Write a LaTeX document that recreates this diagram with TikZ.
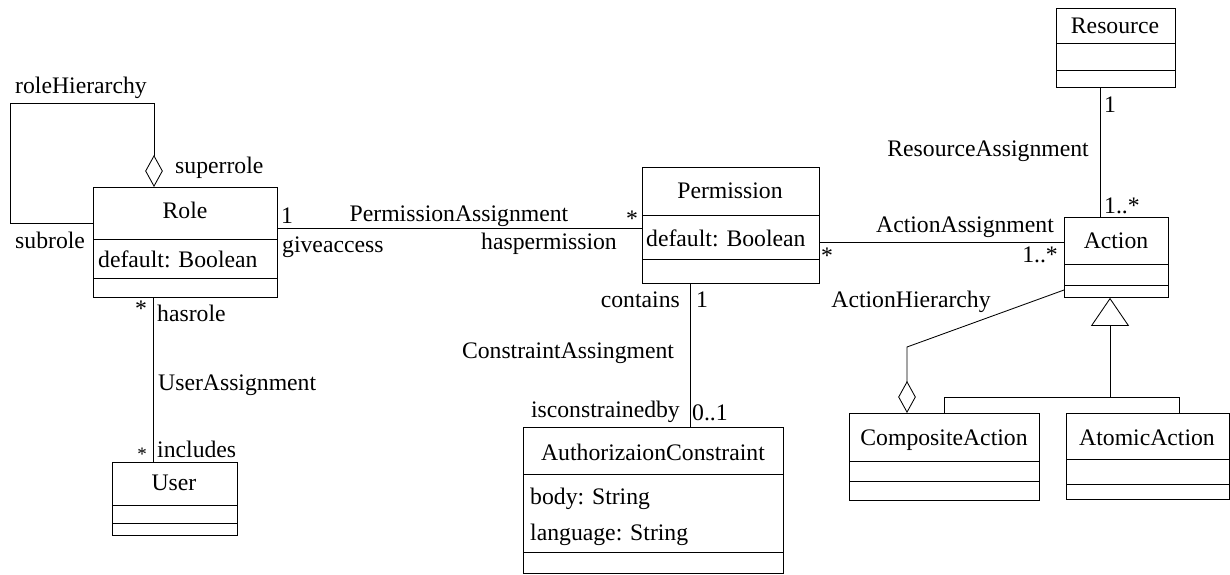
\documentclass[tikz,border=0pt]{standalone}
\usepackage{fontspec}
\setmainfont{Liberation Serif}
\usetikzlibrary{arrows.meta}
\begin{document}
\begin{tikzpicture}[x=1pt,y=-1pt,
  font=\fontsize{23.7}{28}\selectfont\rmfamily,
  classbox/.style={draw, line width=0.85pt, inner sep=0, anchor=north west},
  lbl/.style={inner sep=0, anchor=base},
  lblw/.style={inner sep=0, anchor=base west},
  lble/.style={inner sep=0, anchor=base east},
  star/.style={inner sep=0, anchor=center},
  conn/.style={line width=0.85pt},
  aggr/.style={conn, -{Diamond[open, length=32pt, width=17.6pt, line width=0.85pt]}},
  gen/.style={conn, -{Triangle[open, length=28pt, width=38pt, line width=0.85pt]}},
]
\useasboundingbox (0,0) rectangle (1230,574);

% ---- classes ----
\node[classbox, minimum width=184pt, minimum height=110pt] (role) at (93,187) {};
\draw[conn] (role.west |- 0,239) -- (role.east |- 0,239);
\draw[conn] (role.west |- 0,278) -- (role.east |- 0,278);
\node[lbl] (roleT) at (185,218) {Role};
\node[lblw] (roleA) at (98,267) {default: Boolean};

\node[classbox, minimum width=177pt, minimum height=116pt] (perm) at (642,167) {};
\draw[conn] (perm.west |- 0,215) -- (perm.east |- 0,215);
\draw[conn] (perm.west |- 0,259) -- (perm.east |- 0,259);
\node[lbl] (permT) at (730,198) {Permission};
\node[lblw] (permA) at (646,246) {default: Boolean};

\node[classbox, minimum width=119pt, minimum height=79pt] (resource) at (1056,8) {};
\draw[conn] (resource.west |- 0,43) -- (resource.east |- 0,43);
\draw[conn] (resource.west |- 0,70) -- (resource.east |- 0,70);
\node[lbl] (resourceT) at (1115,33) {Resource};

\node[classbox, minimum width=104pt, minimum height=80pt] (action) at (1064,217) {};
\draw[conn] (action.west |- 0,264) -- (action.east |- 0,264);
\draw[conn] (action.west |- 0,285) -- (action.east |- 0,285);
\node[lbl] (actionT) at (1116,248) {Action};

\node[classbox, minimum width=190pt, minimum height=87pt] (comp) at (849,413) {};
\draw[conn] (comp.west |- 0,461) -- (comp.east |- 0,461);
\draw[conn] (comp.west |- 0,481) -- (comp.east |- 0,481);
\node[lbl] (compT) at (944,445) {CompositeAction};

\node[classbox, minimum width=163pt, minimum height=86pt] (atomic) at (1066,413) {};
\draw[conn] (atomic.west |- 0,459) -- (atomic.east |- 0,459);
\draw[conn] (atomic.west |- 0,484) -- (atomic.east |- 0,484);
\node[lbl] (atomicT) at (1147,445) {AtomicAction};

\node[classbox, minimum width=260pt, minimum height=146pt] (ac) at (523,427) {};
\draw[conn] (ac.west |- 0,474) -- (ac.east |- 0,474);
\draw[conn] (ac.west |- 0,552) -- (ac.east |- 0,552);
\node[lbl] (acT) at (653,460) {AuthorizaionConstraint};
\node[lblw] (acA1) at (530,504) {body: String};
\node[lblw] (acA2) at (530,540) {language: String};

\node[classbox, minimum width=125pt, minimum height=73pt] (user) at (112,462) {};
\draw[conn] (user.west |- 0,505) -- (user.east |- 0,505);
\draw[conn] (user.west |- 0,523) -- (user.east |- 0,523);
\node[lbl] (userT) at (174,490) {User};

% ---- associations ----
% role hierarchy (self aggregation)
\draw[aggr] (role.west |- 0,223) -| (10,103) -| (role.north -| 154,0);
\node[lblw] (rhL) at (15,93) {roleHierarchy};
\node[lblw] (supL) at (175,173) {superrole};
\node[lblw] (subL) at (15,248) {subrole};

% permission assignment
\draw[conn] (role.east |- 0,228) -- (perm.west |- 0,228);
\node[lblw] (paOne) at (281,223) {1};
\node[lblw] (paGive) at (282,252) {giveaccess};
\node[lbl] (paL) at (459,221) {PermissionAssignment};
\node[lble] (paHas) at (617,249) {haspermission};
\node[star] (paStar) at (632,219) {*};

% action assignment
\draw[conn] (perm.east |- 0,242) -- (action.west |- 0,242);
\node[lbl] (aaL) at (965,232) {ActionAssignment};
\node[star] (aaStar) at (827,256) {*};
\node[lble] (aaMult) at (1058,262) {1..*};

% resource assignment
\draw[conn] (resource.south -| 1100,0) -- (action.north -| 1100,0);
\node[lblw] (raOne) at (1104,112) {1};
\node[lble] (raL) at (1089,156) {ResourceAssignment};
\node[lblw] (raMult) at (1104,213) {1..*};

% user assignment
\draw[conn] (role.south -| 153,0) -- (user.north -| 153,0);
\node[star] (uaStar1) at (141,309) {*};
\node[lblw] (uaHas) at (157,321) {hasrole};
\node[lblw] (uaL) at (158,390) {UserAssignment};
\node[star] (uaStar2) at (142,454) {\fontsize{19}{22}\selectfont *};
\node[lblw] (uaInc) at (157,457) {includes};

% constraint assignment
\draw[conn] (perm.south -| 690,0) -- (ac.north -| 690,0);
\node[lble] (caCont) at (680,307) {contains};
\node[lblw] (caOne) at (696,307) {1};
\node[lbl] (caL) at (568,358) {ConstraintAssingment};
\node[lble] (caIs) at (680,417) {isconstrainedby};
\node[lblw] (caMult) at (692,420) {0..1};

% action hierarchy (aggregation)
\draw[aggr] (action.west |- 0,290) -- (907,347) -- (comp.north -| 907,0);
\node[lbl] (ahL) at (911,307) {ActionHierarchy};

% generalization
\draw[conn] (comp.north -| 944,0) -- (944,397) -- (1179,397) -- (atomic.north -| 1179,0);
\draw[gen] (1110,397) -- (action.south -| 1110,0);
\end{tikzpicture}
\end{document}
